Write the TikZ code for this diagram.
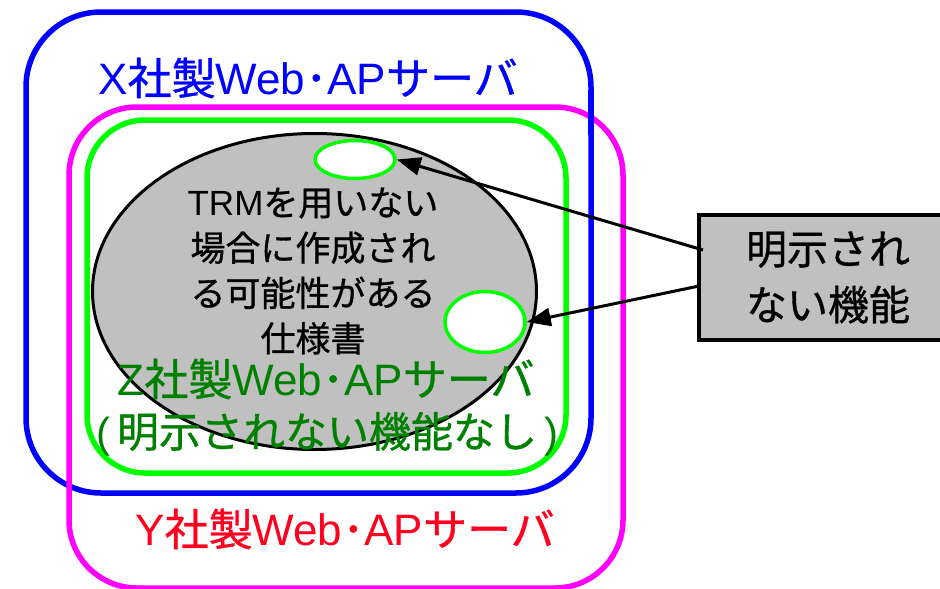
\documentclass[tikz,border=0pt]{standalone}
\usepackage{fontspec}
\setmainfont{Noto Sans CJK JP}[FakeBold=0.8]
\newfontfamily\lat{Liberation Sans}
\usetikzlibrary{arrows.meta,shapes.geometric}
\definecolor{xblue}{RGB}{0,0,255}
\definecolor{ymag}{RGB}{255,0,255}
\definecolor{zframe}{RGB}{0,255,0}
\definecolor{ztext}{RGB}{0,128,0}
\definecolor{yred}{RGB}{255,0,30}
\definecolor{silver}{RGB}{192,192,192}
\tikzset{
  frame/.style={line width=5.5pt, rounded corners=#1},
  label/.style={inner sep=0pt, align=center, font=\fontsize{44}{46}\selectfont},
  note/.style={inner sep=0pt, align=center, font=\fontsize{42}{45}\selectfont},
  spec/.style={ellipse, draw=black, fill=silver, line width=3pt, inner sep=0pt},
  hole/.style={ellipse, draw=zframe, fill=white, line width=3.5pt, inner sep=0pt},
  callout/.style={draw=black, fill=silver, line width=3.5pt, inner sep=0pt, align=center,
    font=\fontsize{41}{56}\selectfont},
  pointer/.style={draw=black, line width=3pt, -{Triangle[length=24pt,width=18pt]}}
}
\begin{document}
\begin{tikzpicture}[x=1pt,y=-1pt]
\useasboundingbox (0,0) rectangle (940,589);
% server frames
\draw[xblue, frame=75pt] (26,12) rectangle (591,493);
\draw[ymag, frame=68pt] (69,107) rectangle (623,588);
\draw[xblue, line width=5.5pt] (591,90) -- (591,135);
\draw[zframe, frame=58pt] (87,120) rectangle (566,473);
% specification area and its undocumented parts
\node[spec, minimum width=444pt, minimum height=316pt] (area) at (314.5,291.5) {};
\node[hole, minimum width=80pt, minimum height=38pt] (hole1) at (355,159.5) {};
\node[hole, minimum width=80pt, minimum height=61pt] (hole2) at (485,322) {};
% labels
\node[label, text=xblue] (xlab) at (308,78) {{\lat X}社製{\lat Web}･{\lat AP}サーバ};
\node[label, text=ztext] (zlab) at (326,379) {{\lat Z}社製{\lat Web}･{\lat AP}サーバ};
\node[note, text=ztext] (znote) at (327,434) {{\lat(}\,明示されない機能なし\,{\lat)}};
\node[label, text=yred] (ylab) at (345,529) {{\lat Y}社製{\lat Web}･{\lat AP}サーバ};
\node[inner sep=0pt, align=center, font=\fontsize{35}{45.3}\selectfont] (spectext) at (313,271)
  {{\lat TRM}を用いない\\場合に作成され\\る可能性がある\\仕様書};
% callout box
\node[callout, minimum width=258pt, minimum height=125pt] (box) at (828,277.5) {明示され\\ない機能};
\coordinate (p1) at (703,250);
\coordinate (p2) at (699,286);
\draw[pointer] (p1) -- (hole1.east);
\draw[pointer] (p2) -- (hole2.east);
\end{tikzpicture}
\end{document}
